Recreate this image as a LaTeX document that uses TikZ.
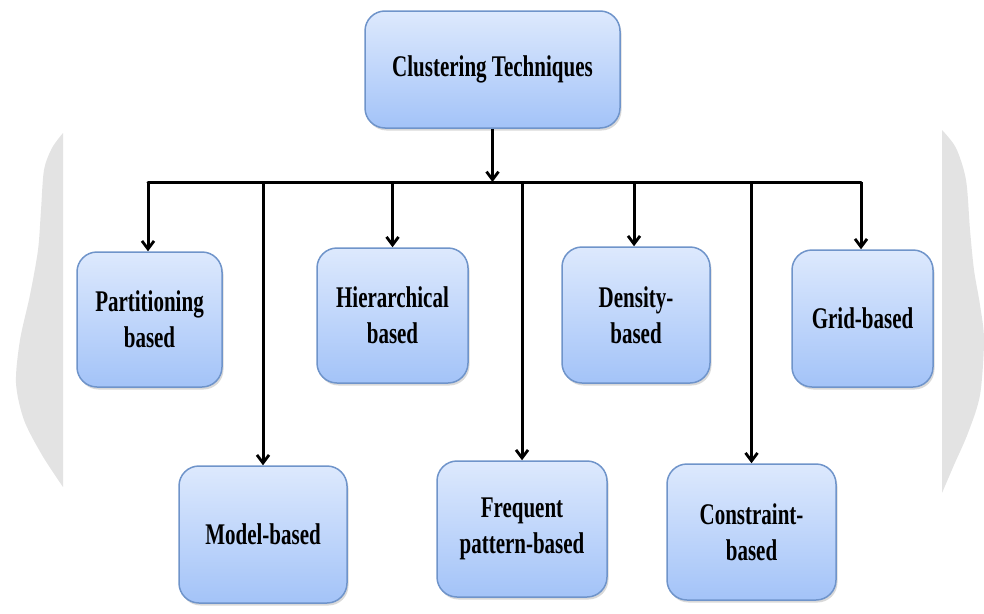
\documentclass[tikz,border=0pt]{standalone}
\usepackage{fontspec}
\newfontfamily\boxfont{Liberation Serif Bold}[FakeStretch=0.7]
\usetikzlibrary{arrows.meta,shadows}
\definecolor{boxtop}{HTML}{DDE9FD}
\definecolor{boxbot}{HTML}{A3C3F8}
\definecolor{boxedge}{HTML}{6F94CA}
\definecolor{sidegrey}{HTML}{E3E3E3}
\tikzset{
  cbox/.style={draw=boxedge, line width=1.5pt, rounded corners=20pt,
    top color=boxtop, bottom color=boxbot, inner sep=0pt,
    align=center, font=\boxfont\fontsize{30}{36}\selectfont,
    drop shadow={shadow xshift=1.5pt, shadow yshift=-2.5pt, opacity=0.3}},
  arr/.style={line width=3pt, -{Straight Barb[length=8pt,width=12pt,line width=2.8pt]}},
  busline/.style={line width=3pt, line cap=round},
}
\begin{document}
\begin{tikzpicture}[x=1pt,y=-1pt]
\useasboundingbox (0,0) rectangle (984,613);
% side grey shapes
\fill[sidegrey] plot[smooth, tension=0.5] coordinates {(63,133) (52,148) (44,170) (41,210) (38,250) (30,295) (20,340) (16,383) (24,420) (42,455) (63,487)} -- cycle;
\fill[sidegrey] plot[smooth, tension=0.5] coordinates {(942,130) (956,148) (966,180) (970,230) (974,270) (980,305) (984,340) (980,395) (968,433) (954,465) (942,493)} -- cycle;
% boxes
\node[cbox, minimum width=255pt, minimum height=117pt] (root) at (492.5,69.5) {Clustering Techniques};
\node[cbox, minimum width=145pt, minimum height=135pt] (part) at (149.5,319.5) {Partitioning\\based};
\node[cbox, minimum width=168pt, minimum height=137pt] (model) at (263,534.5) {Model-based};
\node[cbox, minimum width=151pt, minimum height=135pt] (hier) at (392.5,315.5) {Hierarchical\\based};
\node[cbox, minimum width=170pt, minimum height=136pt] (freq) at (522,529) {Frequent\\pattern-based};
\node[cbox, minimum width=148pt, minimum height=136pt] (dens) at (636,315) {Density-\\based};
\node[cbox, minimum width=169pt, minimum height=136pt] (cons) at (751.5,532) {Constraint-\\based};
\node[cbox, minimum width=141pt, minimum height=137pt] (grid) at (862.5,318.5) {Grid-based};
% bus
\coordinate (busL) at (148,182);
\coordinate (busR) at (861,182);
\draw[busline] (busL) -- (busR);
\draw[arr] (root.south) -- (root.south |- busL);
\draw[arr] (busL) -- (part.north -| busL);
\draw[arr] (263,182) coordinate (bm) -- (model.north);
\draw[arr] (hier.north |- busL) -- (hier.north);
\draw[arr] (freq.north |- busL) -- (freq.north);
\draw[arr] (634,182) coordinate (bd) -- (bd |- dens.north);
\draw[arr] (cons.north |- busL) -- (cons.north);
\draw[arr] (busR) -- (busR |- grid.north);
\end{tikzpicture}
\end{document}
